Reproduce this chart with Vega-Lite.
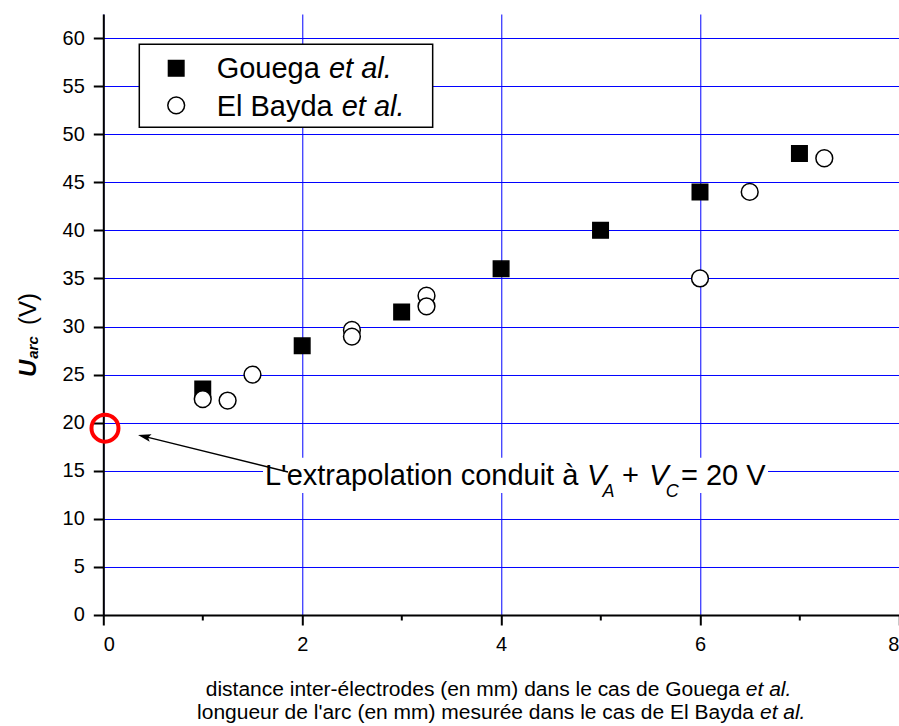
{
  "$schema": "https://vega.github.io/schema/vega-lite/v6.json",
  "width": 795.6,
  "height": 601,
  "autosize": "none",
  "padding": {"left": 103.3, "top": 14, "right": 0, "bottom": 111},
  "background": "white",
  "config": {
    "font": "Liberation Sans",
    "view": {"stroke": null},
    "axis": {
      "labelFont": "Liberation Sans", "labelFontSize": 20, "labelColor": "black",
      "tickColor": "black", "tickWidth": 2,
      "domainColor": "black", "domainWidth": 2,
      "gridColor": "#0000ff", "gridWidth": 1,
      "title": null
    }
  },
  "datasets": {
    "pts": [
      {"series": "Gouega et al.", "d": 1, "u": 23.5},
      {"series": "Gouega et al.", "d": 2, "u": 28},
      {"series": "Gouega et al.", "d": 3, "u": 31.5},
      {"series": "Gouega et al.", "d": 4, "u": 36},
      {"series": "Gouega et al.", "d": 5, "u": 40},
      {"series": "Gouega et al.", "d": 6, "u": 44},
      {"series": "Gouega et al.", "d": 7, "u": 48},
      {"series": "El Bayda et al.", "d": 1, "u": 22.45},
      {"series": "El Bayda et al.", "d": 1.25, "u": 22.3},
      {"series": "El Bayda et al.", "d": 1.5, "u": 25},
      {"series": "El Bayda et al.", "d": 2.5, "u": 29.65},
      {"series": "El Bayda et al.", "d": 2.5, "u": 28.95},
      {"series": "El Bayda et al.", "d": 3.25, "u": 33.2},
      {"series": "El Bayda et al.", "d": 3.25, "u": 32.1},
      {"series": "El Bayda et al.", "d": 6, "u": 35},
      {"series": "El Bayda et al.", "d": 6.5, "u": 44},
      {"series": "El Bayda et al.", "d": 7.25, "u": 47.5}
    ]
  },
  "layer": [
    {
      "data": {"name": "pts"},
      "transform": [{"filter": "datum.series === 'Gouega et al.'"}],
      "mark": {"type": "point", "shape": "square", "filled": true, "fill": "black", "stroke": "black", "strokeWidth": 1.5, "size": 240, "opacity": 1},
      "encoding": {
        "x": {"field": "d", "type": "quantitative",
          "scale": {"domain": [0, 8], "nice": false, "zero": false},
          "axis": {
            "values": [0, 1, 2, 3, 4, 5, 6, 7, 8],
            "title": null,
            "labelExpr": "datum.value % 2 === 0 ? '' + datum.value : ''",
            "labelFontSize": 20, "labelColor": "black", "labelPadding": 10,
            "labelFont": "Liberation Sans",
            "tickSize": {"condition": {"test": "datum.value % 2 === 0", "value": 10}, "value": 5},
            "tickColor": "black", "tickWidth": 2,
            "domainColor": "black", "domainWidth": 2,
            "grid": true, "gridColor": "#0000ff", "gridWidth": 1,
            "gridOpacity": {"condition": {"test": "datum.value % 2 === 0", "value": 1}, "value": 0}
          }
        },
        "y": {"field": "u", "type": "quantitative",
          "scale": {"domain": [0, 62.5], "nice": false, "zero": false},
          "axis": {
            "values": [0, 2.5, 5, 7.5, 10, 12.5, 15, 17.5, 20, 22.5, 25, 27.5, 30, 32.5, 35, 37.5, 40, 42.5, 45, 47.5, 50, 52.5, 55, 57.5, 60],
            "title": null,
            "labelExpr": "datum.value % 5 === 0 ? '' + datum.value : ''",
            "labelFontSize": 20, "labelColor": "black", "labelPadding": 9,
            "labelFont": "Liberation Sans",
            "tickSize": {"condition": {"test": "datum.value % 5 === 0", "value": 10}, "value": 5},
            "tickColor": "black", "tickWidth": 2,
            "domainColor": "black", "domainWidth": 2,
            "grid": true, "gridColor": "#0000ff", "gridWidth": 1,
            "gridOpacity": {"condition": {"test": "datum.value % 5 === 0", "value": 1}, "value": 0}
          }
        }
      }
    },
    {
      "data": {"values": [{}]},
      "mark": {"type": "rect", "fill": "white", "stroke": null},
      "encoding": {
        "x": {"datum": 1.606, "type": "quantitative"},
        "x2": {"datum": 6.684},
        "y": {"datum": 16.34, "type": "quantitative"},
        "y2": {"datum": 12.7}
      }
    },
    {
      "data": {"values": [{}]},
      "mark": {"type": "rect", "fill": "white", "stroke": "black", "strokeWidth": 1.5},
      "encoding": {
        "x": {"datum": 0.362, "type": "quantitative"},
        "x2": {"datum": 3.312},
        "y": {"datum": 59.35, "type": "quantitative"},
        "y2": {"datum": 50.72}
      }
    },
    {
      "data": {"name": "pts"},
      "transform": [{"filter": "datum.series === 'El Bayda et al.'"}],
      "mark": {"type": "point", "shape": "circle", "filled": true, "fill": "white", "stroke": "black", "strokeWidth": 1.5, "size": 282, "opacity": 1},
      "encoding": {
        "x": {"field": "d", "type": "quantitative"},
        "y": {"field": "u", "type": "quantitative"}
      }
    },
    {
      "data": {"values": [{}]},
      "mark": {"type": "point", "shape": "square", "filled": true, "fill": "black", "stroke": "black", "strokeWidth": 1.5, "size": 240, "opacity": 1},
      "encoding": {
        "x": {"datum": 0.733, "type": "quantitative"},
        "y": {"datum": 56.85, "type": "quantitative"}
      }
    },
    {
      "data": {"values": [{}]},
      "mark": {"type": "point", "shape": "circle", "filled": true, "fill": "white", "stroke": "black", "strokeWidth": 1.5, "size": 282, "opacity": 1},
      "encoding": {
        "x": {"datum": 0.733, "type": "quantitative"},
        "y": {"datum": 53.0, "type": "quantitative"}
      }
    },
    {
      "data": {"values": [{}]},
      "mark": {"type": "text", "text": "Gouega", "fontSize": 29, "align": "left", "baseline": "alphabetic", "color": "black"},
      "encoding": {
        "x": {"datum": 1.14, "type": "quantitative"},
        "y": {"datum": 55.88, "type": "quantitative"}
      }
    },
    {
      "data": {"values": [{}]},
      "mark": {"type": "text", "text": "et al.", "fontSize": 29, "fontStyle": "italic", "align": "left", "baseline": "alphabetic", "color": "black"},
      "encoding": {
        "x": {"datum": 2.269, "type": "quantitative"},
        "y": {"datum": 55.88, "type": "quantitative"}
      }
    },
    {
      "data": {"values": [{}]},
      "mark": {"type": "text", "text": "El Bayda", "fontSize": 29, "align": "left", "baseline": "alphabetic", "color": "black"},
      "encoding": {
        "x": {"datum": 1.14, "type": "quantitative"},
        "y": {"datum": 51.85, "type": "quantitative"}
      }
    },
    {
      "data": {"values": [{}]},
      "mark": {"type": "text", "text": "et al.", "fontSize": 29, "fontStyle": "italic", "align": "left", "baseline": "alphabetic", "color": "black"},
      "encoding": {
        "x": {"datum": 2.397, "type": "quantitative"},
        "y": {"datum": 51.85, "type": "quantitative"}
      }
    },
    {
      "data": {"values": [{}]},
      "mark": {"type": "text", "text": "L'extrapolation conduit à", "fontSize": 29, "align": "left", "baseline": "alphabetic", "color": "black"},
      "encoding": {
        "x": {"datum": 1.626, "type": "quantitative"},
        "y": {"datum": 13.52, "type": "quantitative"}
      }
    },
    {
      "data": {"values": [{}]},
      "mark": {"type": "text", "text": "V", "fontSize": 29, "fontStyle": "italic", "align": "left", "baseline": "alphabetic", "color": "black"},
      "encoding": {
        "x": {"datum": 4.864, "type": "quantitative"},
        "y": {"datum": 13.52, "type": "quantitative"}
      }
    },
    {
      "data": {"values": [{}]},
      "mark": {"type": "text", "text": "A", "fontSize": 18, "fontStyle": "italic", "align": "left", "baseline": "alphabetic", "color": "black"},
      "encoding": {
        "x": {"datum": 5.02, "type": "quantitative"},
        "y": {"datum": 12.27, "type": "quantitative"}
      }
    },
    {
      "data": {"values": [{}]},
      "mark": {"type": "text", "text": "+", "fontSize": 29, "align": "left", "baseline": "alphabetic", "color": "black"},
      "encoding": {
        "x": {"datum": 5.215, "type": "quantitative"},
        "y": {"datum": 13.52, "type": "quantitative"}
      }
    },
    {
      "data": {"values": [{}]},
      "mark": {"type": "text", "text": "V", "fontSize": 29, "fontStyle": "italic", "align": "left", "baseline": "alphabetic", "color": "black"},
      "encoding": {
        "x": {"datum": 5.49, "type": "quantitative"},
        "y": {"datum": 13.52, "type": "quantitative"}
      }
    },
    {
      "data": {"values": [{}]},
      "mark": {"type": "text", "text": "C", "fontSize": 18, "fontStyle": "italic", "align": "left", "baseline": "alphabetic", "color": "black"},
      "encoding": {
        "x": {"datum": 5.655, "type": "quantitative"},
        "y": {"datum": 12.27, "type": "quantitative"}
      }
    },
    {
      "data": {"values": [{}]},
      "mark": {"type": "text", "text": "= 20 V", "fontSize": 29, "align": "left", "baseline": "alphabetic", "color": "black"},
      "encoding": {
        "x": {"datum": 5.808, "type": "quantitative"},
        "y": {"datum": 13.52, "type": "quantitative"}
      }
    },
    {
      "data": {"values": [{}]},
      "mark": {"type": "rule", "color": "black", "strokeWidth": 1.5},
      "encoding": {
        "x": {"datum": 1.857, "type": "quantitative"},
        "y": {"datum": 14.88, "type": "quantitative"},
        "x2": {"datum": 0.42},
        "y2": {"datum": 18.55}
      }
    },
    {
      "data": {"values": [{}]},
      "mark": {"type": "point", "shape": "M0,0L2,-0.6L1.6,0L2,0.6Z", "filled": true, "fill": "black", "stroke": null, "size": 169, "angle": 14, "opacity": 1},
      "encoding": {
        "x": {"datum": 0.349, "type": "quantitative"},
        "y": {"datum": 18.73, "type": "quantitative"}
      }
    },
    {
      "data": {"values": [{}]},
      "mark": {"type": "point", "shape": "circle", "filled": false, "stroke": "#ff0000", "strokeWidth": 4, "size": 729, "opacity": 1},
      "encoding": {
        "x": {"datum": 0.017, "type": "quantitative"},
        "y": {"datum": 19.43, "type": "quantitative"}
      }
    },
    {
      "data": {"values": [{}]},
      "mark": {"type": "text", "text": "U", "fontSize": 24, "fontWeight": "bold", "fontStyle": "italic", "angle": 270, "align": "center", "baseline": "alphabetic", "color": "black"},
      "encoding": {
        "x": {"datum": -0.677, "type": "quantitative"},
        "y": {"datum": 25.65, "type": "quantitative"}
      }
    },
    {
      "data": {"values": [{}]},
      "mark": {"type": "text", "text": "arc", "fontSize": 15, "fontWeight": "bold", "fontStyle": "italic", "angle": 270, "align": "center", "baseline": "alphabetic", "color": "black"},
      "encoding": {
        "x": {"datum": -0.657, "type": "quantitative"},
        "y": {"datum": 27.82, "type": "quantitative"}
      }
    },
    {
      "data": {"values": [{}]},
      "mark": {"type": "text", "text": "(V)", "fontSize": 24, "angle": 270, "align": "center", "baseline": "alphabetic", "color": "black"},
      "encoding": {
        "x": {"datum": -0.677, "type": "quantitative"},
        "y": {"datum": 31.82, "type": "quantitative"}
      }
    },
    {
      "data": {"values": [{}]},
      "mark": {"type": "text", "text": "distance inter-électrodes (en mm) dans le cas de Gouega", "fontSize": 21, "align": "right", "baseline": "alphabetic", "color": "black"},
      "encoding": {
        "x": {"datum": 6.402, "type": "quantitative"},
        "y": {"datum": -8.42, "type": "quantitative"}
      }
    },
    {
      "data": {"values": [{}]},
      "mark": {"type": "text", "text": "et al.", "fontSize": 21, "fontStyle": "italic", "align": "left", "baseline": "alphabetic", "color": "black"},
      "encoding": {
        "x": {"datum": 6.461, "type": "quantitative"},
        "y": {"datum": -8.42, "type": "quantitative"}
      }
    },
    {
      "data": {"values": [{}]},
      "mark": {"type": "text", "text": "longueur de l'arc (en mm) mesurée dans le cas de El Bayda", "fontSize": 21, "align": "right", "baseline": "alphabetic", "color": "black"},
      "encoding": {
        "x": {"datum": 6.543, "type": "quantitative"},
        "y": {"datum": -10.8, "type": "quantitative"}
      }
    },
    {
      "data": {"values": [{}]},
      "mark": {"type": "text", "text": "et al.", "fontSize": 21, "fontStyle": "italic", "align": "left", "baseline": "alphabetic", "color": "black"},
      "encoding": {
        "x": {"datum": 6.603, "type": "quantitative"},
        "y": {"datum": -10.8, "type": "quantitative"}
      }
    }
  ]
}
